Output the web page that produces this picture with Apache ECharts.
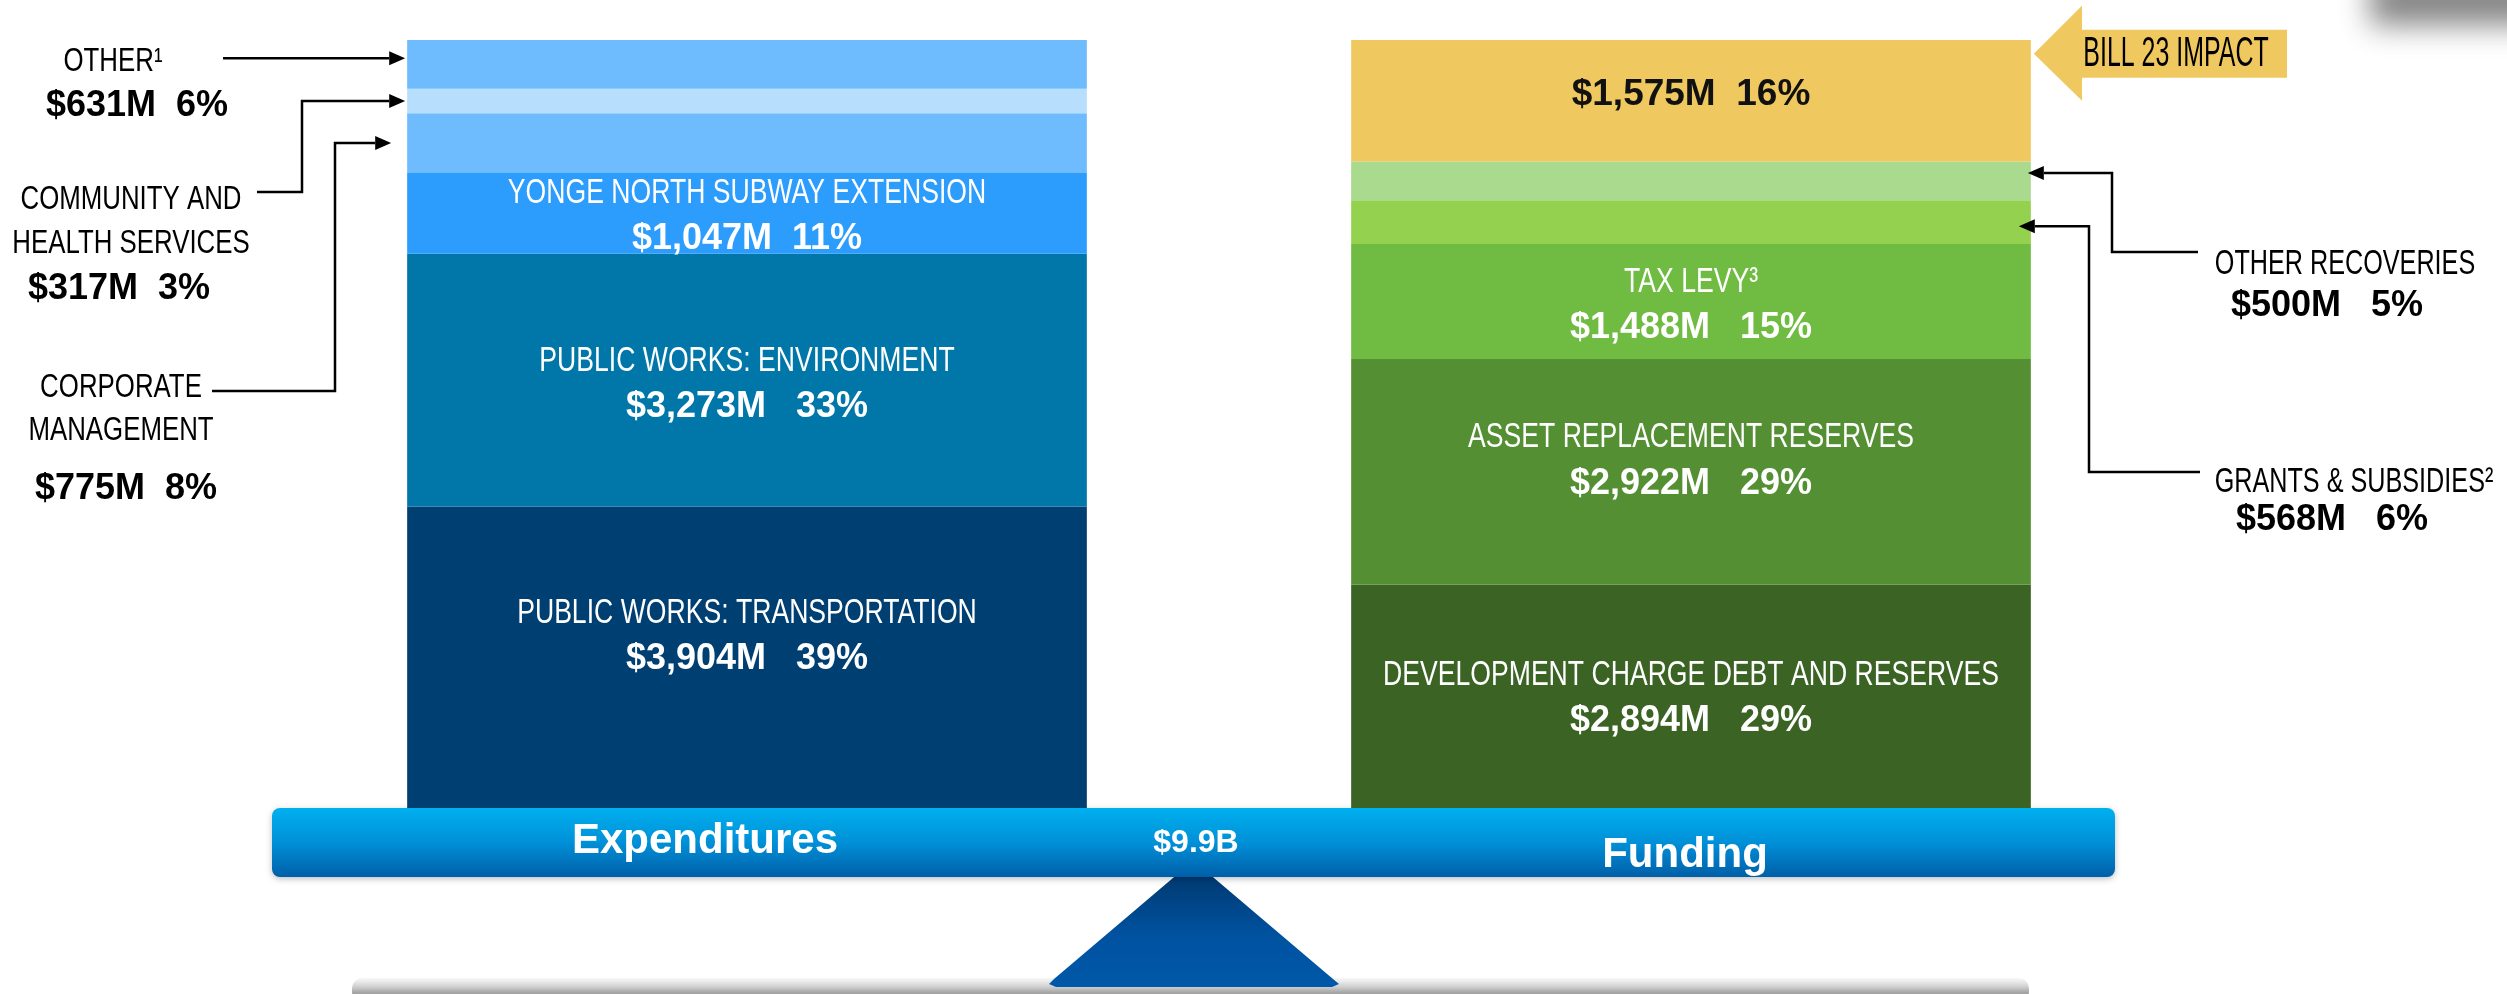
<!DOCTYPE html>
<html>
<head>
<meta charset="utf-8">
<script src="https://cdn.jsdelivr.net/npm/echarts@6.0.0/dist/echarts.min.js"></script>
<style>
  html, body { margin: 0; padding: 0; background: #fff; }
  #chart { width: 2507px; height: 994px; }
</style>
</head>
<body>
<div id="chart"></div>
<script>
// data, bottom of each stack first
const categories = ['Expenditures', 'Funding'];
const expNames = ['PUBLIC WORKS: TRANSPORTATION', 'PUBLIC WORKS: ENVIRONMENT', 'YONGE NORTH SUBWAY EXTENSION', 'CORPORATE MANAGEMENT', 'COMMUNITY AND HEALTH SERVICES', 'OTHER¹'];
const expValues = [3904, 3273, 1047, 775, 317, 631];
const expShares = [39, 33, 11, 8, 3, 6];
const fundNames = ['DEVELOPMENT CHARGE DEBT AND RESERVES', 'ASSET REPLACEMENT RESERVES', 'TAX LEVY³', 'GRANTS & SUBSIDIES²', 'OTHER RECOVERIES', 'BILL 23 IMPACT'];
const fundValues = [2894, 2922, 1488, 568, 500, 1575];
const fundShares = [29, 29, 15, 6, 5, 16];

const expColors = ['#003F72', '#0077A8', '#2C9CFD', '#6EBCFD', '#B8DEFD', '#6EBCFD'];
const fundColors = ['#3A6324', '#558F33', '#70BC42', '#93D14E', '#AADA8E', '#F0C860'];

const SANS = "'Liberation Sans', Arial, sans-serif";

const sum = a => a.reduce((s, v) => s + v, 0);
const total = sum(expValues);
const money = v => '$' + v.toLocaleString('en-US') + 'M';

// segments with a name inside the bar get a vertical nudge; null = no inside label
const expInside = [-21, 4, 3, null, null, null];
const fundInside = [2, -11, 4, null, null, -6];
const HALF = 23;

function item(value, color, share, nudge, gap, dark) {
    const d = { value: value, itemStyle: { color: color }, label: { show: false } };
    if (nudge !== null) {
        d.label = {
            show: true,
            position: 'inside',
            offset: [0, dark ? nudge : nudge + HALF],
            formatter: money(value) + gap + share + '%',
            fontFamily: SANS,
            fontWeight: 'bold',
            fontSize: dark ? 37 : 36,
            color: dark ? '#111' : '#fff'
        };
    }
    return d;
}

const series = expValues.map((v, i) => ({
    type: 'bar',
    name: expNames[i] + ' / ' + fundNames[i],
    stack: 'total',
    barWidth: '72%',
    data: [
        item(v, expColors[i], expShares[i], expInside[i], i === 2 ? '  ' : '   ', false),
        item(fundValues[i], fundColors[i], fundShares[i], fundInside[i], i === 5 ? '  ' : '   ', i === 5)
    ]
}));

const chart = echarts.init(document.getElementById('chart'));
chart.setOption({
    animation: false,
    backgroundColor: '#fff',
    grid: { left: 275, right: 344, top: 40, bottom: 186 },
    xAxis: {
        type: 'category',
        data: categories,
        z: 10,
        axisLine: { show: false },
        axisTick: { show: false },
        axisLabel: {
            margin: 12,
            formatter: (v, i) => (i === 0 ? '{e|' : '{f|') + v + '}',
            rich: {
                e: { fontFamily: SANS, fontWeight: 'bold', fontSize: 42, color: '#fff', padding: [0, 84, 0, 0] },
                f: { fontFamily: SANS, fontWeight: 'bold', fontSize: 42, color: '#fff', padding: [14, 12, 0, 0] }
            }
        }
    },
    yAxis: { type: 'value', min: 0, max: total, show: false },
    series: series
});

// annotation layer, placed from the chart's own scales
const cx0 = chart.convertToPixel({ xAxisIndex: 0 }, categories[0]);
const cx1 = chart.convertToPixel({ xAxisIndex: 0 }, categories[1]);
const barW = (cx1 - cx0) * 0.72;
const leftEdge = cx0 - barW / 2;
const rightEdge = cx1 + barW / 2;
const yBottom = chart.convertToPixel({ yAxisIndex: 0 }, 0);

function midY(vals, level) {
    return chart.convertToPixel({ yAxisIndex: 0 }, sum(vals.slice(0, level)) + vals[level] / 2);
}

// condensed caption: regular sans squeezed horizontally
function cond(text, x, y, size, scale, color) {
    return {
        type: 'text', z: 20, x: x, y: y, scaleX: scale,
        style: { text: text, x: 0, y: 0, font: size + 'px ' + SANS, fill: color || '#000',
            align: 'center', verticalAlign: 'middle' }
    };
}
function bold(text, x, y, size, color) {
    return {
        type: 'text', z: 20,
        style: { text: text, x: x, y: y, font: 'bold ' + size + 'px ' + SANS, fill: color || '#000',
            align: 'center', verticalAlign: 'middle' }
    };
}

function arrow(points, dir) {
    // last point is the arrow tip
    const tip = points[points.length - 1];
    const back = dir > 0 ? tip[0] - 16 : tip[0] + 16;
    const line = points.slice(0, -1).concat([[back, tip[1]]]);
    return [
        { type: 'polyline', z: 20, shape: { points: line }, style: { stroke: '#000', lineWidth: 2.5, fill: null } },
        { type: 'polygon', z: 20, shape: { points: [tip, [back, tip[1] - 7], [back, tip[1] + 7]] }, style: { fill: '#000' } }
    ];
}

const inner = [];
expInside.forEach((n, i) => {
    if (n !== null) inner.push(cond(expNames[i], cx0, midY(expValues, i) + n - HALF, 35, 0.76, '#fff'));
});
fundInside.forEach((n, i) => {
    if (n !== null && i < 5) inner.push(cond(fundNames[i], cx1, midY(fundValues, i) + n - HALF, 35, 0.76, '#fff'));
});

const yOther = midY(expValues, 5) - 6;
const yComm = midY(expValues, 4);
const yCorp = midY(expValues, 3);
const yRec = midY(fundValues, 4) - 8;
const yGrant = midY(fundValues, 3) + 4;
const yBill = midY(fundValues, 5) - 47;

const elements = [
    // floor shadow
    { type: 'rect', z: 0, shape: { x: 352, y: 978, width: 1677, height: 24, r: 10 },
      style: { fill: new echarts.graphic.LinearGradient(0, 0, 0, 1, [
          { offset: 0, color: 'rgba(235,235,235,0.4)' }, { offset: 0.6, color: 'rgba(150,150,150,0.85)' },
          { offset: 1, color: 'rgba(120,120,120,0.9)' }]) } },
    // fulcrum
    { type: 'polygon', z: 1, shape: { points: [[1180, 872], [1207, 872], [1333, 979], [1339, 984], [1332, 987],
          [1056, 987], [1049, 984], [1054, 979]] },
      style: { fill: new echarts.graphic.LinearGradient(0, 0, 0, 1, [
          { offset: 0, color: '#00386E' }, { offset: 0.55, color: '#0052A0' }, { offset: 1, color: '#0058A8' }]) } },
    // balance beam
    { type: 'rect', z: 2, shape: { x: 272, y: yBottom, width: 1843, height: 69, r: 8 },
      style: { fill: new echarts.graphic.LinearGradient(0, 0, 0, 1, [
          { offset: 0, color: '#00B0EE' }, { offset: 0.5, color: '#0090D8' }, { offset: 1, color: '#005FA8' }]),
          shadowBlur: 6, shadowColor: 'rgba(0,0,0,0.25)', shadowOffsetY: 2 } },
    bold('$' + (total / 1000).toFixed(1) + 'B', 1196, yBottom + 35, 32, '#fff'),
    // soft shadow in the top right corner (shape sits off-canvas, only its shadow shows)
    { type: 'rect', z: 0, shape: { x: 2370, y: -80, width: 260, height: 50 },
      style: { fill: '#888', shadowBlur: 30, shadowOffsetY: 55, shadowColor: 'rgba(110,110,110,0.85)' } },
    // bill 23 flag
    { type: 'polygon', z: 5, shape: { points: [[rightEdge + 3, yBill], [2082, yBill - 48], [2082, yBill - 24], [2287, yBill - 24],
          [2287, yBill + 24], [2082, yBill + 24], [2082, yBill + 47]] }, style: { fill: fundColors[5] } },
    cond(fundNames[5], 2176, yBill, 43, 0.58, '#000'),

    // left notes
    cond(expNames[5], 113, 62, 34, 0.76),
    bold(money(expValues[5]) + '  ' + expShares[5] + '%', 137, 106, 36),
    cond('COMMUNITY AND', 131, 200, 34, 0.76),
    cond('HEALTH SERVICES', 131, 244, 34, 0.76),
    bold(money(expValues[4]) + '  ' + expShares[4] + '%', 119, 289, 36),
    cond('CORPORATE', 121, 388, 34, 0.76),
    cond('MANAGEMENT', 121, 431, 34, 0.76),
    bold(money(expValues[3]) + '  ' + expShares[3] + '%', 126, 489, 36),

    // right notes
    cond(fundNames[4], 2345, 264, 35, 0.72),
    bold(money(fundValues[4]) + '   ' + fundShares[4] + '%', 2327, 306, 36),
    cond(fundNames[3], 2354, 482, 35, 0.72),
    bold(money(fundValues[3]) + '   ' + fundShares[3] + '%', 2332, 520, 36)
].concat(
    inner,
    arrow([[223, yOther], [leftEdge - 2, yOther]], 1),
    arrow([[257, 192], [302, 192], [302, yComm], [leftEdge - 2, yComm]], 1),
    arrow([[212, 391], [335, 391], [335, yCorp], [leftEdge - 16, yCorp]], 1),
    arrow([[2198, 252], [2112, 252], [2112, yRec], [rightEdge - 3, yRec]], -1),
    arrow([[2200, 472], [2089, 472], [2089, yGrant], [rightEdge - 12, yGrant]], -1)
);

chart.setOption({ graphic: { elements: elements } });
</script>
</body>
</html>
